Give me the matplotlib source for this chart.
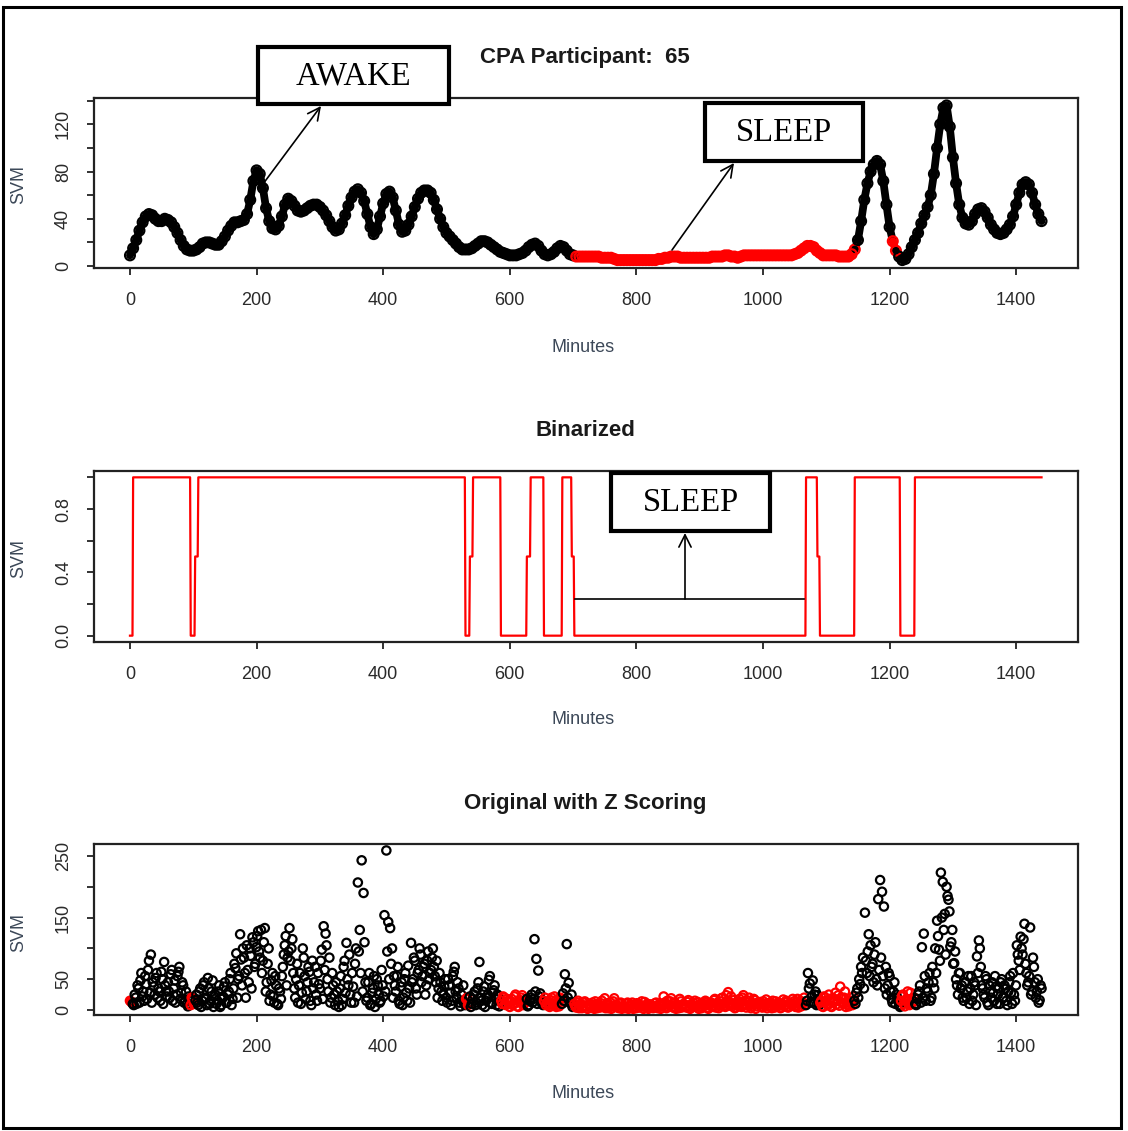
import numpy as np
import matplotlib
matplotlib.use('Agg')
import matplotlib.pyplot as plt
from matplotlib.patches import Rectangle
from matplotlib.collections import LineCollection

plt.rcParams['font.family'] = ['Liberation Sans', 'DejaVu Sans']

# ---------------- data ----------------
x_ticks = [0, 200, 400, 600, 800, 1000, 1200, 1400]

# Panel 1: smoothed SVM, one value every 5 minutes (0..1440)
p1_step = 5
p1_values = [
    9, 15, 22, 30, 37, 42, 44, 43, 40, 38, 38, 40,
    39, 37, 33, 28, 22, 17, 14, 13, 13, 14, 16, 19,
    20, 20, 19, 18, 18, 21, 25, 30, 34, 37, 37, 38,
    39, 44, 56, 72, 81, 78, 66, 49, 38, 32, 31, 34,
    42, 52, 57, 55, 51, 47, 46, 47, 49, 51, 52, 52,
    50, 47, 43, 38, 33, 30, 31, 36, 43, 51, 58, 63,
    65, 62, 55, 44, 33, 27, 31, 42, 53, 61, 63, 58,
    47, 35, 29, 30, 35, 42, 50, 57, 62, 64, 64, 62,
    56, 48, 40, 33, 28, 25, 22, 19, 16, 14, 14, 14,
    15, 17, 19, 21, 21, 20, 18, 16, 14, 12, 11, 10,
    9, 9, 9, 10, 11, 13, 16, 18, 19, 17, 13, 10,
    9, 10, 12, 15, 17, 16, 13, 10, 9, 8, 8, 8,
    8, 8, 8, 8, 8, 7, 7, 7, 7, 6, 5, 5,
    5, 5, 5, 5, 5, 5, 5, 5, 5, 5, 5, 6,
    6, 7, 7, 8, 8, 8, 7, 7, 7, 7, 7, 7,
    7, 7, 7, 7, 8, 8, 8, 8, 9, 9, 8, 8,
    7, 8, 9, 9, 9, 9, 9, 9, 9, 9, 9, 9,
    9, 9, 9, 9, 9, 9, 10, 11, 13, 15, 17, 17,
    16, 13, 11, 9, 9, 9, 9, 9, 8, 8, 8, 8,
    10, 14, 22, 38, 56, 70, 80, 86, 89, 86, 72, 52,
    33, 21, 13, 8, 5, 6, 10, 16, 22, 28, 36, 43,
    50, 60, 78, 100, 120, 134, 136, 118, 92, 70, 52, 41,
    36, 35, 38, 44, 48, 49, 46, 41, 35, 31, 28, 27,
    28, 31, 35, 42, 52, 62, 69, 71, 69, 62, 52, 44,
    38,
]
p1_sleep_ranges = [(705, 1147), (1203, 1212)]

# Panel 2: binarized state (minute, value) vertices
bin_minutes = [0, 4, 5, 95, 96, 102, 103, 107, 108,
               529, 530, 536, 537, 541, 542,
               585, 586, 626, 627, 632, 633,
               653, 654, 682, 683,
               697, 698, 701, 702,
               1067, 1068, 1085, 1086, 1089, 1090,
               1144, 1145, 1216, 1217, 1239, 1240, 1440]
bin_values = [0, 0, 1, 1, 0, 0, 0.5, 0.5, 1,
              1, 0, 0, 0.5, 0.5, 1,
              1, 0, 0, 0.5, 0.5, 1,
              1, 0, 0, 1,
              1, 0.5, 0.5, 0,
              0, 1, 1, 0.5, 0.5, 0,
              0, 1, 1, 0, 0, 1, 1]

# Panel 3: raw SVM, read at minutes 0, 3, 6, ... 1440
p3_step = 3
p3_values = [
    15, 12, 8, 20, 40, 12, 60, 30, 55, 18, 80, 90, 45, 25, 60, 35, 15, 50, 78, 30,
    45, 20, 65, 35, 12, 55, 70, 28, 40, 15, 10, 22, 8, 18, 12, 25, 8, 35, 15, 45,
    20, 52, 10, 30, 5, 25, 15, 40, 8, 22, 45, 12, 30, 60, 18, 75, 92, 50, 123, 40,
    85, 20, 65, 100, 35, 110, 75, 120, 95, 130, 80, 133, 45, 100, 25, 60, 12, 40, 8, 30,
    55, 90, 120, 85, 133, 100, 60, 20, 75, 40, 10, 100, 55, 30, 70, 15, 80, 45, 25, 60,
    35, 98, 136, 124, 50, 85, 20, 40, 8, 30, 5, 55, 18, 80, 109, 40, 25, 60, 12, 100,
    207, 130, 243, 190, 45, 20, 60, 10, 35, 5, 50, 25, 15, 40, 154, 259, 143, 133, 100, 55,
    30, 70, 10, 45, 20, 60, 15, 35, 109, 50, 80, 25, 65, 90, 55, 75, 40, 95, 60, 85,
    70, 45, 20, 60, 30, 26, 50, 12, 40, 8, 55, 70, 20, 35, 6, 15, 10, 18, 8, 22,
    10, 25, 8, 35, 78, 15, 30, 5, 20, 49, 12, 28, 40, 8, 22, 14, 10, 20, 8, 15,
    5, 18, 10, 25, 6, 14, 20, 8, 12, 18, 8, 20, 12, 115, 83, 64, 27, 10, 15, 8,
    12, 5, 20, 8, 15, 10, 6, 18, 27, 58, 107, 44, 12, 5, 10, 4, 15, 8, 3, 12,
    6, 2, 10, 4, 8, 14, 3, 7, 11, 5, 19, 8, 3, 12, 6, 19, 9, 4, 10, 2,
    7, 3, 12, 5, 9, 2, 6, 11, 4, 8, 3, 13, 5, 2, 9, 6, 4, 12, 3, 7,
    10, 22, 5, 15, 8, 19, 4, 12, 7, 3, 14, 6, 9, 4, 16, 2, 8, 11, 5, 13,
    6, 3, 10, 15, 4, 8, 12, 5, 18, 9, 3, 14, 20, 7, 24, 29, 12, 6, 16, 4,
    10, 18, 5, 24, 14, 8, 20, 3, 11, 16, 6, 9, 13, 4, 10, 17, 7, 12, 3, 9,
    14, 6, 11, 4, 17, 8, 13, 5, 10, 18, 7, 12, 4, 15, 9, 20, 8, 60, 43, 22,
    12, 30, 24, 8, 15, 5, 20, 10, 25, 6, 14, 18, 9, 24, 38, 12, 20, 5, 15, 8,
    12, 22, 10, 35, 50, 70, 85, 158, 60, 123, 105, 75, 90, 50, 180, 211, 192, 168, 70, 40,
    55, 18, 30, 10, 20, 8, 15, 25, 6, 18, 10, 28, 12, 20, 8, 25, 40, 102, 124, 15,
    30, 60, 20, 45, 100, 145, 98, 223, 208, 156, 200, 179, 103, 130, 76, 50, 25, 60, 40, 15,
    45, 30, 10, 55, 25, 40, 87, 113, 70, 35, 20, 50, 8, 30, 45, 15, 38, 25, 10, 50,
    20, 35, 8, 45, 28, 60, 15, 105, 80, 119, 90, 140, 60, 45, 134, 30, 70, 20, 50, 16,
    35,
]
# Panel 3: raw SVM, read at minutes 1.5, 4.5, 7.5, ... 1438.5
p3_offset = 1.5
p3_values_mid = [
    14, 10, 25, 10, 35, 48, 22, 15, 42, 65, 28, 12, 38, 52, 20, 30, 62, 10, 40, 22,
    30, 58, 15, 48, 25, 62, 18, 45, 12, 30, 6, 15, 20, 10, 16, 12, 30, 5, 40, 18,
    8, 35, 15, 48, 22, 10, 30, 5, 18, 38, 12, 25, 50, 8, 35, 68, 20, 55, 82, 100,
    60, 105, 45, 88, 118, 70, 102, 128, 85, 60, 110, 30, 75, 15, 48, 22, 55, 10, 35, 18,
    70, 105, 40, 95, 80, 115, 35, 50, 12, 60, 28, 85, 18, 45, 62, 8, 35, 70, 15, 42,
    80, 18, 65, 105, 30, 12, 60, 25, 45, 15, 35, 8, 70, 28, 50, 90, 12, 38, 75, 22,
    95, 60, 30, 110, 15, 45, 8, 28, 55, 18, 40, 12, 65, 22, 30, 95, 50, 75, 20, 40,
    55, 15, 38, 8, 50, 28, 72, 12, 45, 85, 35, 60, 100, 45, 70, 25, 80, 50, 65, 100,
    55, 80, 35, 45, 15, 38, 20, 50, 28, 15, 62, 30, 45, 12, 25, 40, 8, 20, 12, 5,
    18, 30, 12, 45, 20, 8, 38, 15, 25, 55, 10, 32, 18, 25, 6, 15, 22, 10, 18, 12,
    14, 8, 22, 12, 5, 16, 24, 10, 15, 6, 15, 25, 18, 30, 10, 22, 15, 8, 20, 12,
    8, 16, 10, 22, 5, 14, 20, 10, 15, 35, 20, 12, 25, 8, 6, 12, 3, 10, 5, 14,
    3, 9, 5, 12, 2, 7, 10, 4, 15, 6, 3, 11, 8, 2, 14, 5, 7, 3, 12, 6,
    4, 10, 2, 8, 12, 5, 3, 9, 6, 14, 2, 7, 10, 4, 8, 3, 11, 5, 9, 2,
    6, 12, 3, 9, 14, 5, 11, 2, 8, 18, 4, 10, 6, 13, 3, 9, 5, 15, 7, 2,
    10, 5, 13, 8, 2, 11, 6, 16, 4, 12, 7, 19, 10, 5, 14, 8, 22, 10, 3, 12,
    6, 13, 20, 8, 4, 15, 10, 6, 18, 2, 12, 8, 5, 14, 7, 3, 11, 6, 15, 4,
    8, 12, 3, 10, 6, 15, 4, 11, 7, 14, 5, 18, 10, 6, 12, 8, 15, 35, 12, 48,
    25, 8, 18, 12, 6, 22, 14, 8, 18, 5, 12, 28, 15, 7, 20, 10, 30, 12, 6, 15,
    8, 15, 28, 20, 42, 60, 35, 80, 95, 55, 70, 45, 110, 40, 65, 85, 55, 35, 25, 60,
    30, 12, 45, 25, 15, 5, 22, 10, 15, 30, 8, 18, 14, 10, 18, 30, 12, 20, 55, 35,
    45, 15, 70, 35, 60, 120, 80, 150, 130, 90, 185, 160, 110, 75, 95, 40, 60, 35, 20, 45,
    20, 55, 35, 15, 45, 8, 60, 100, 40, 25, 55, 12, 40, 20, 28, 55, 10, 35, 45, 20,
    40, 15, 30, 55, 10, 25, 40, 90, 65, 100, 115, 75, 40, 55, 25, 85, 45, 30, 12, 40,
]

RED = '#ff0000'
TXT = '#2a2a2a'
LAB = '#3c4858'

# ---------------- figure ----------------
W, H = 1128, 1131
fig = plt.figure(figsize=(W / 100, H / 100), dpi=100)


def px_axes(left, top, right, bottom):
    return fig.add_axes([left / W, 1 - bottom / H, (right - left) / W, (bottom - top) / H])


def style(ax, ylim, major, minor, labels):
    ax.set_xlim(-57.6, 1497.6)
    ax.set_ylim(*ylim)
    ax.set_xticks(x_ticks)
    ax.set_xticklabels([str(t) for t in x_ticks])
    ax.set_yticks(major)
    ax.set_yticklabels(labels)
    ax.set_yticks(minor, minor=True)
    ax.tick_params(axis='both', which='both', direction='out', length=5, width=1.3, color='#222222')
    ax.tick_params(axis='x', pad=12, labelsize=13, labelcolor=TXT)
    ax.tick_params(axis='y', pad=10.5, labelsize=13, labelcolor=TXT, labelrotation=90)
    for lab in ax.get_yticklabels():
        lab.set_va('center')
    for s in ax.spines.values():
        s.set_linewidth(1.6)
        s.set_color('#222222')


# Panel 1
ax1 = px_axes(93.5, 98, 1078, 268)
m1 = np.arange(len(p1_values)) * p1_step
v1 = np.array(p1_values, dtype=float)
sleep1 = np.zeros(len(m1), dtype=bool)
for a, b in p1_sleep_ranges:
    sleep1 |= (m1 >= a) & (m1 <= b)
cols1 = np.where(sleep1, RED, 'black')
pts = np.column_stack([m1, v1])
segs = np.stack([pts[:-1], pts[1:]], axis=1)
seg_cols = [RED if (sleep1[i] and sleep1[i + 1]) else 'black' for i in range(len(segs))]
ax1.add_collection(LineCollection(segs, colors=seg_cols, linewidths=5.6, capstyle='round'))
ax1.scatter(m1, v1, s=50, facecolors='none', edgecolors=cols1, linewidths=1.6, zorder=3)
style(ax1, (-1.7, 142.3), [0, 40, 80, 120], [20, 60, 100, 140], ['0', '40', '80', '120'])

# Panel 2
ax2 = px_axes(93.5, 471, 1078, 642)
ax2.plot(bin_minutes, bin_values, color=RED, lw=1.6)
style(ax2, (-0.04, 1.04), [0, 0.4, 0.8], [0.2, 0.6, 1.0], ['0.0', '0.4', '0.8'])

# Panel 3
ax3 = px_axes(93.5, 844, 1078, 1015)
m3 = np.concatenate([np.arange(len(p3_values)) * p3_step,
                     np.arange(len(p3_values_mid)) * p3_step + p3_offset])
v3 = np.array(p3_values + p3_values_mid, dtype=float)
order = np.argsort(m3, kind='stable')
m3, v3 = m3[order], v3[order]
state3 = np.interp(m3, bin_minutes, bin_values)
cols3 = np.where(state3 < 0.5, RED, 'black')
ax3.scatter(m3, v3, s=36, facecolors='none', edgecolors=cols3, linewidths=1.6, zorder=3)
style(ax3, (-8.1, 269.5), [0, 50, 150, 250], [100, 200], ['0', '50', '150', '250'])

# ---------------- overlay (titles, labels, annotations) ----------------
ov = fig.add_axes([0, 0, 1, 1], zorder=10)
ov.set_xlim(0, W)
ov.set_ylim(H, 0)
ov.axis('off')
ov.patch.set_alpha(0)

ov.add_patch(Rectangle((3, 7), 1118, 1121, fill=False, ec='black', lw=2.2))

for txt, y in [('CPA Participant:  65', 57), ('Binarized', 430), ('Original with Z Scoring', 803)]:
    ov.text(585, y, txt, ha='center', va='center', fontsize=16, fontweight='bold', color='#1a1a1a')
for y in [185, 558, 932]:
    ov.text(19, y, 'SVM', ha='center', va='center', rotation=90, fontsize=13, color=LAB)
for y in [347, 720, 1093]:
    ov.text(583, y, 'Minutes', ha='center', va='center', fontsize=13, color=LAB)

serif = ['Liberation Serif', 'DejaVu Serif']
boxes = [((258, 47, 191, 57), 'AWAKE'), ((705, 103, 158, 58), 'SLEEP'), ((611, 473, 159, 58), 'SLEEP')]
for (x, y, w, h), label in boxes:
    ov.add_patch(Rectangle((x, y), w, h, fc='white', ec='black', lw=3, zorder=5))
    ov.text(x + w / 2, y + h / 2 + 1, label, ha='center', va='center', fontsize=23.5,
            family=serif, color='black', zorder=6)

arrow = dict(arrowstyle='->', lw=1.2, color='black', mutation_scale=22, shrinkA=0, shrinkB=0)
ov.annotate('', xy=(321, 106), xytext=(263, 184), arrowprops=arrow)
ov.annotate('', xy=(734, 163), xytext=(672, 250), arrowprops=arrow)
ov.annotate('', xy=(685, 533), xytext=(685, 599), arrowprops=arrow)
ov.plot([575, 804], [599, 599], color='black', lw=1.2)

fig.savefig('out.png', dpi=100)
